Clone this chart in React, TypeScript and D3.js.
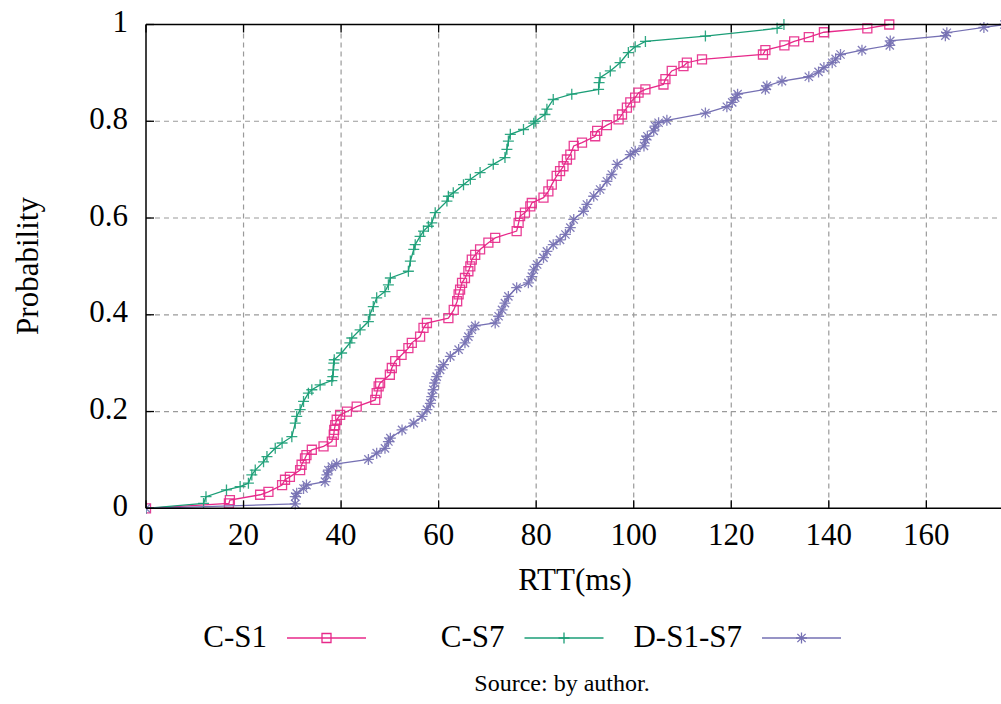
import React from "react";
import * as d3 from "d3";

// ---- data ----
const xTicks = [0, 20, 40, 60, 80, 100, 120, 140, 160];
const yTicks = [0, 0.2, 0.4, 0.6, 0.8, 1];
const yTickLabels = ["0", "0.2", "0.4", "0.6", "0.8", "1"];
const seriesNames = ["C-S1", "C-S7", "D-S1-S7"];

const cS1: [number, number][] = [
  [0, 0], [17.0, 0.010], [17.2, 0.017], [23.4, 0.028], [25.1, 0.034], [27.9, 0.048], [28.5, 0.059],
  [29.5, 0.065], [31.6, 0.079], [31.9, 0.090], [32.6, 0.103], [32.9, 0.110], [34.0, 0.121],
  [36.4, 0.128], [38.1, 0.138], [38.5, 0.152], [38.6, 0.162], [38.8, 0.172], [39.1, 0.183],
  [39.8, 0.193], [41.2, 0.200], [43.2, 0.210], [47.0, 0.224], [47.3, 0.238], [47.7, 0.252],
  [48.0, 0.259], [50.0, 0.276], [50.4, 0.290], [51.1, 0.304], [52.4, 0.317], [53.8, 0.331],
  [54.5, 0.342], [56.2, 0.355], [56.9, 0.373], [57.6, 0.383], [62.0, 0.393], [63.1, 0.410],
  [63.8, 0.428], [64.1, 0.442], [64.4, 0.452], [64.8, 0.466], [65.4, 0.476], [66.1, 0.490],
  [66.5, 0.500], [66.8, 0.514], [67.5, 0.524], [68.5, 0.535], [70.2, 0.549], [71.6, 0.559],
  [76.0, 0.573], [76.4, 0.590], [76.7, 0.604], [77.7, 0.611], [78.8, 0.624], [79.1, 0.631],
  [81.5, 0.642], [82.5, 0.655], [83.2, 0.669], [84.2, 0.687], [84.9, 0.697], [85.6, 0.707],
  [86.3, 0.721], [87.0, 0.731], [87.7, 0.749], [89.4, 0.756], [92.1, 0.769], [92.5, 0.780],
  [94.5, 0.792], [96.9, 0.804], [97.6, 0.814], [98.6, 0.828], [99.3, 0.839], [100.3, 0.849],
  [101.0, 0.859], [102.4, 0.866], [106.1, 0.876], [106.5, 0.887], [107.8, 0.904], [110.2, 0.914],
  [110.9, 0.921], [114.0, 0.928], [126.5, 0.938], [127.0, 0.947], [130.9, 0.957], [132.9, 0.965],
  [135.9, 0.974], [139.0, 0.984], [147.9, 0.992], [152.4, 1.0],
];

const cS7: [number, number][] = [
  [0, 0], [11.8, 0.010], [12.3, 0.024], [16.5, 0.038], [19.3, 0.045], [21.0, 0.052], [21.7, 0.069],
  [22.4, 0.079], [24.1, 0.096], [24.8, 0.107], [26.5, 0.124], [27.9, 0.135], [29.9, 0.148],
  [30.6, 0.176], [30.9, 0.190], [31.6, 0.204], [32.3, 0.221], [33.3, 0.238], [34.0, 0.245],
  [35.7, 0.255], [38.1, 0.264], [38.3, 0.272], [38.4, 0.286], [38.5, 0.300], [38.6, 0.307],
  [40.1, 0.321], [41.8, 0.342], [42.2, 0.352], [43.9, 0.369], [45.6, 0.386], [45.9, 0.400],
  [46.6, 0.417], [47.3, 0.435], [49.0, 0.448], [49.7, 0.462], [50.1, 0.476], [53.8, 0.490],
  [54.2, 0.511], [54.9, 0.535], [55.2, 0.545], [56.2, 0.562], [56.9, 0.573], [57.9, 0.583],
  [58.6, 0.590], [59.3, 0.611], [61.7, 0.635], [62.0, 0.645], [63.0, 0.652], [65.1, 0.669],
  [66.5, 0.680], [68.5, 0.694], [71.2, 0.711], [73.6, 0.725], [74.0, 0.742], [74.3, 0.759],
  [74.7, 0.773], [77.4, 0.783], [79.5, 0.796], [79.8, 0.800], [81.8, 0.814], [82.2, 0.825],
  [83.5, 0.845], [87.3, 0.856], [92.8, 0.866], [92.9, 0.880], [93.1, 0.890], [95.2, 0.904],
  [97.2, 0.921], [98.9, 0.942], [100.3, 0.954], [102.4, 0.965], [114.7, 0.976], [129.4, 0.992],
  [130.8, 1.0],
];

const dS1S7: [number, number][] = [
  [0, 0], [30.6, 0.009], [30.6, 0.024], [30.9, 0.031], [32.3, 0.041], [32.9, 0.048], [36.7, 0.055],
  [37.1, 0.069], [37.4, 0.079], [38.1, 0.086], [39.1, 0.092], [45.6, 0.101], [47.3, 0.114],
  [49.0, 0.124], [49.7, 0.138], [50.1, 0.145], [52.5, 0.162], [54.9, 0.176], [56.6, 0.190],
  [57.6, 0.204], [58.3, 0.217], [58.6, 0.231], [58.9, 0.245], [59.2, 0.259], [59.6, 0.272],
  [60.3, 0.286], [61.0, 0.297], [62.4, 0.314], [64.1, 0.328], [65.4, 0.342], [66.1, 0.355],
  [66.8, 0.369], [67.5, 0.377], [71.6, 0.383], [72.3, 0.397], [73.0, 0.410], [73.6, 0.424],
  [74.3, 0.438], [76.0, 0.456], [78.4, 0.466], [79.1, 0.479], [79.5, 0.493], [80.2, 0.504],
  [81.5, 0.518], [82.2, 0.531], [83.5, 0.545], [84.9, 0.555], [86.0, 0.566], [87.0, 0.580],
  [87.7, 0.597], [89.7, 0.614], [90.4, 0.628], [91.8, 0.645], [93.1, 0.659], [94.5, 0.676],
  [95.5, 0.690], [96.6, 0.711], [99.3, 0.731], [100.3, 0.738], [102.1, 0.749], [102.4, 0.762],
  [102.8, 0.769], [104.1, 0.780], [104.4, 0.790], [105.1, 0.797], [106.8, 0.802], [114.7, 0.817],
  [119.1, 0.830], [120.2, 0.839], [120.8, 0.849], [121.3, 0.856], [127.0, 0.866], [127.3, 0.873],
  [130.4, 0.883], [135.9, 0.892], [137.9, 0.902], [139.0, 0.911], [140.7, 0.921], [141.4, 0.929],
  [142.4, 0.938], [146.8, 0.947], [152.5, 0.957], [152.6, 0.966], [163.9, 0.977], [164.2, 0.983],
  [171.8, 0.994], [176.0, 1.0],
];

const seriesData = [cS1, cS7, dS1S7];
const seriesColors = ["#e7298a", "#1b9e77", "#7570b3"];
const markerKinds = ["square", "plus", "star"];

// ---- layout ----
const W = 1001;
const H = 704;
const left = 146;
const right = 999.5;
const top = 24.5;
const bottom = 508.3;
const FONT = '"Liberation Serif", "Times New Roman", Times, "DejaVu Serif", serif';
const txt = { fontFamily: FONT } as React.CSSProperties;

function markerPath(kind: string, s: number): string {
  const h = s / 2;
  if (kind === "square") return `M${-h},${-h}H${h}V${h}H${-h}Z`;
  if (kind === "plus") return `M${-h},0H${h}M0,${-h}V${h}`;
  const d = h * 0.75;
  return `M${-h},0H${h}M0,${-h}V${h}M${-d},${-d}L${d},${d}M${-d},${d}L${d},${-d}`;
}

export default function App() {
  const x = d3.scaleLinear().domain([0, 175]).range([left, right]);
  const y = d3.scaleLinear().domain([0, 1]).range([bottom, top]);
  const line = d3
    .line<[number, number]>()
    .x((d) => x(d[0]))
    .y((d) => y(d[1]));

  const legendLineStarts = [287, 524.5, 762];
  const legendY = 638;

  return (
    <svg
      width={W}
      height={H}
      style={{ position: "absolute", left: 0, top: 0, background: "#fff", fontFamily: FONT }}
    >
      <defs>
        <clipPath id="plotClip">
          <rect x={left} y={top - 6} width={W - left} height={bottom - top + 12} />
        </clipPath>
      </defs>
      <rect x={0} y={0} width={W} height={H} fill="#fff" />

      {/* grid */}
      {xTicks
        .filter((t) => t !== 0)
        .map((t) => (
          <line
            key={"gx" + t}
            x1={x(t)}
            x2={x(t)}
            y1={top}
            y2={bottom}
            stroke="#9a9a9a"
            strokeWidth={1.2}
            strokeDasharray="5,4"
          />
        ))}
      {yTicks
        .filter((t) => t !== 0 && t !== 1)
        .map((t) => (
          <line
            key={"gy" + t}
            x1={left}
            x2={W}
            y1={y(t)}
            y2={y(t)}
            stroke="#9a9a9a"
            strokeWidth={1.2}
            strokeDasharray="5,4"
          />
        ))}

      {/* series */}
      <g clipPath="url(#plotClip)">
        {seriesData.map((data, i) => (
          <g key={"s" + i}>
            <path d={line(data) || ""} fill="none" stroke={seriesColors[i]} strokeWidth={1.3} />
            {data.map((d, j) => (
              <path
                key={j}
                transform={`translate(${x(d[0])},${y(d[1])})`}
                d={markerPath(markerKinds[i], markerKinds[i] === "square" ? 9 : 11)}
                fill="none"
                stroke={seriesColors[i]}
                strokeWidth={1.3}
                opacity={0.9}
              />
            ))}
          </g>
        ))}
      </g>

      {/* border */}
      <line x1={left} x2={W} y1={top} y2={top} stroke="#000" strokeWidth={1.5} />
      <line x1={left} x2={W} y1={bottom} y2={bottom} stroke="#000" strokeWidth={1.5} />
      <line x1={left} x2={left} y1={top} y2={bottom} stroke="#000" strokeWidth={1.5} />

      {/* ticks */}
      {xTicks.map((t) => (
        <g key={"tx" + t}>
          <line x1={x(t)} x2={x(t)} y1={bottom} y2={bottom - 8} stroke="#000" strokeWidth={1.3} />
          <line x1={x(t)} x2={x(t)} y1={top} y2={top + 8} stroke="#000" strokeWidth={1.3} />
          <text x={x(t)} y={545} fontSize={31} textAnchor="middle" fill="#000" style={txt}>
            {t}
          </text>
        </g>
      ))}
      {yTicks.map((t, i) => (
        <g key={"ty" + t}>
          <line x1={left} x2={left + 8} y1={y(t)} y2={y(t)} stroke="#000" strokeWidth={1.3} />
          <text x={128} y={y(t) + 7.5} fontSize={31} textAnchor="end" fill="#000" style={txt}>
            {yTickLabels[i]}
          </text>
        </g>
      ))}

      {/* axis labels */}
      <text x={575} y={590} fontSize={31} textAnchor="middle" fill="#000" style={txt}>
        RTT(ms)
      </text>
      <text
        transform={`translate(38,266) rotate(-90)`}
        fontSize={31}
        textAnchor="middle"
        fill="#000"
        style={txt}
      >
        Probability
      </text>

      {/* legend */}
      {seriesNames.map((name, i) => {
        const x0 = legendLineStarts[i];
        const x1 = x0 + 79;
        const xm = (x0 + x1) / 2;
        return (
          <g key={"lg" + i}>
            <text x={x0 - 20} y={647} fontSize={31} textAnchor="end" fill="#000" style={txt}>
              {name}
            </text>
            <line x1={x0} x2={x1} y1={legendY} y2={legendY} stroke={seriesColors[i]} strokeWidth={1.5} />
            <path
              transform={`translate(${xm},${legendY})`}
              d={markerPath(markerKinds[i], markerKinds[i] === "square" ? 9 : 11)}
              fill="none"
              stroke={seriesColors[i]}
              strokeWidth={1.3}
            />
          </g>
        );
      })}

      {/* source */}
      <text x={562} y={691} fontSize={24} textAnchor="middle" fill="#000" style={txt}>
        Source: by author.
      </text>
    </svg>
  );
}
